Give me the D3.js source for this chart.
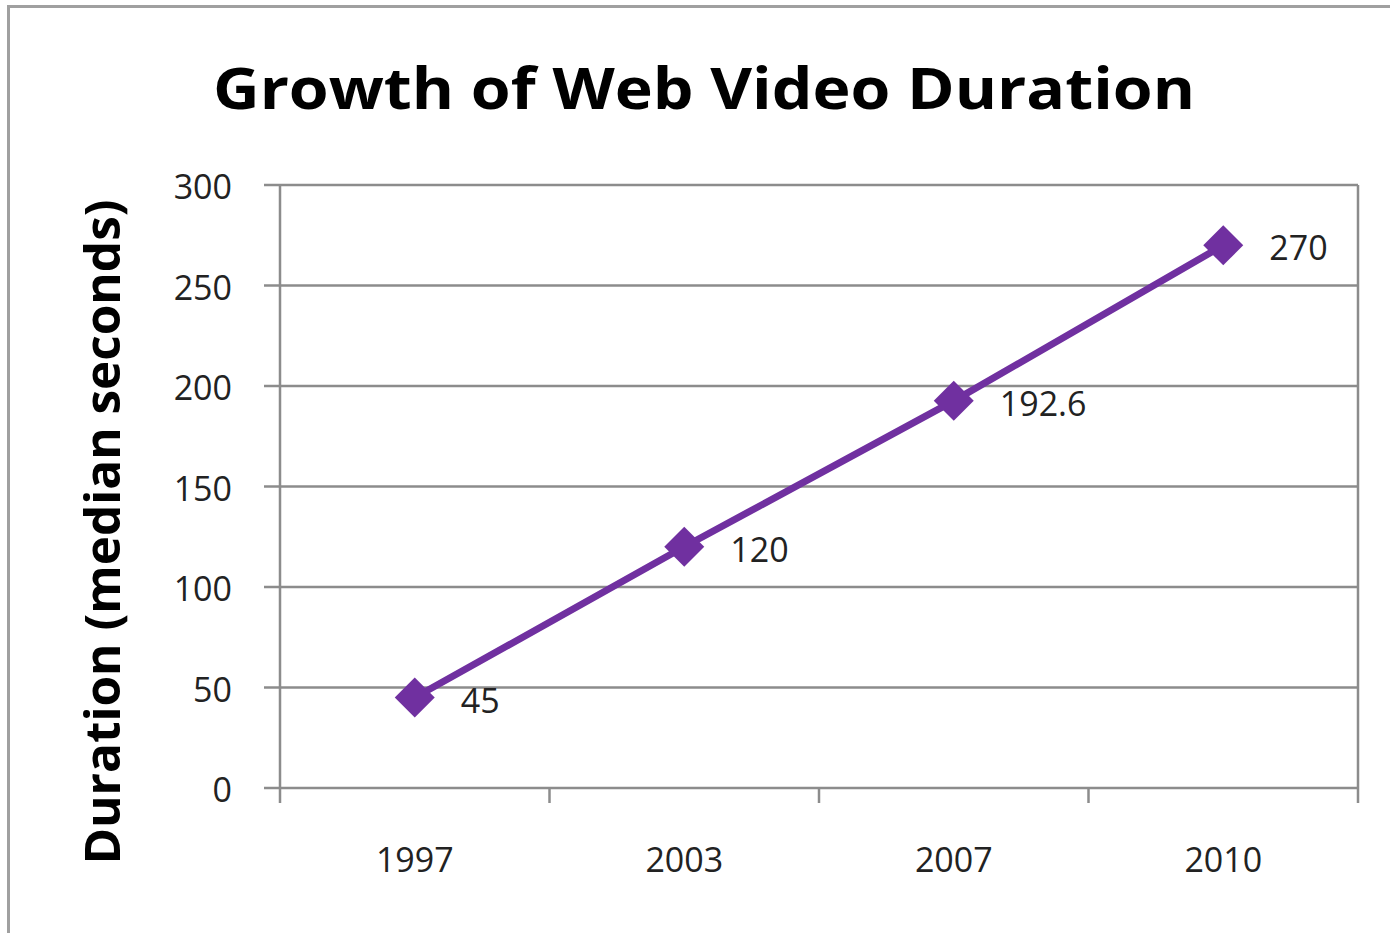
<!DOCTYPE html>
<html>
<head>
<meta charset="utf-8">
<script src="https://cdn.jsdelivr.net/npm/d3@7"></script>
<style>
  body { margin: 0; background: #fff; }
  text { font-family: "Open Sans", "DejaVu Sans", sans-serif; }
</style>
</head>
<body>
<div id="chart"></div>
<script>
// data
var years = ["1997", "2003", "2007", "2010"];
var durations = [45, 120, 192.6, 270];
var labels = ["45", "120", "192.6", "270"];
var yTicks = [0, 50, 100, 150, 200, 250, 300];

var W = 1390, H = 933;
var margin = {top: 185, right: 32, bottom: 145, left: 280};
var width = W - margin.left - margin.right,
    height = H - margin.top - margin.bottom;

var svg = d3.select("#chart").append("svg")
    .attr("width", W)
    .attr("height", H);

// outer chart border
svg.append("rect")
    .attr("x", 8.5).attr("y", 6.5)
    .attr("width", W + 20).attr("height", H + 20)
    .attr("fill", "none")
    .attr("stroke", "#a0a0a0")
    .attr("stroke-width", 3);

svg.append("text")
    .attr("x", 704)
    .attr("y", 109)
    .attr("text-anchor", "middle")
    .style("font-size", "58px")
    .style("font-weight", "bold")
    .attr("textLength", 982)
    .attr("lengthAdjust", "spacingAndGlyphs")
    .text("Growth of Web Video Duration");

svg.append("text")
    .attr("transform", "translate(120," + 532 + ") rotate(-90)")
    .attr("text-anchor", "middle")
    .style("font-size", "48px")
    .style("font-weight", "bold")
    .attr("textLength", 665)
    .attr("lengthAdjust", "spacingAndGlyphs")
    .text("Duration (median seconds)");

var g = svg.append("g")
    .attr("transform", "translate(" + margin.left + "," + margin.top + ")");

var x = d3.scaleBand().domain(years).range([0, width]);
var y = d3.scaleLinear().domain([0, 300]).range([height, 0]);

// gridlines
g.selectAll(".grid")
    .data(yTicks)
    .enter().append("line")
    .attr("class", "grid")
    .attr("x1", -16).attr("x2", width)
    .attr("y1", d => y(d)).attr("y2", d => y(d))
    .attr("stroke", "#8c8c8c")
    .attr("stroke-width", 2.5);

// right border
g.append("line")
    .attr("x1", width).attr("x2", width)
    .attr("y1", 0).attr("y2", height + 15)
    .attr("stroke", "#8c8c8c")
    .attr("stroke-width", 2.5);

// y axis
var yAxis = g.append("g")
    .call(d3.axisLeft(y).tickValues(yTicks).tickSize(0).tickPadding(48));
yAxis.select(".domain").remove();
yAxis.selectAll("text")
    .attr("dy", "0.4em")
    .style("font-size", "34px")
    .style("font-family", "\"Open Sans\", sans-serif")
    .attr("fill", "#222");

g.append("line")
    .attr("x1", 0).attr("x2", 0)
    .attr("y1", 0).attr("y2", height + 15)
    .attr("stroke", "#8c8c8c")
    .attr("stroke-width", 2.5);

// x axis category boundaries
var bounds = years.slice(1).map(d => x(d));
g.selectAll(".xtick")
    .data(bounds)
    .enter().append("line")
    .attr("x1", d => d).attr("x2", d => d)
    .attr("y1", height).attr("y2", height + 15)
    .attr("stroke", "#8c8c8c")
    .attr("stroke-width", 2.5);

var xAxis = g.append("g")
    .attr("transform", "translate(0," + height + ")")
    .call(d3.axisBottom(x).tickSize(0).tickPadding(60));
xAxis.select(".domain").remove();
xAxis.selectAll("text")
    .style("font-size", "34px")
    .style("font-family", "\"Open Sans\", sans-serif")
    .attr("fill", "#222");

var pts = years.map((d, i) => ({year: d, value: durations[i], label: labels[i]}));

var purple = "#7030a0";

g.append("path")
    .datum(pts)
    .attr("fill", "none")
    .attr("stroke", purple)
    .attr("stroke-width", 7)
    .attr("d", d3.line()
        .x(d => x(d.year) + x.bandwidth() / 2)
        .y(d => y(d.value)));

g.selectAll(".marker")
    .data(pts)
    .enter().append("path")
    .attr("transform", d => "translate(" + (x(d.year) + x.bandwidth() / 2) + "," + y(d.value) + ") rotate(45)")
    .attr("d", d3.symbol().type(d3.symbolSquare).size(800))
    .attr("fill", purple);

g.selectAll(".lbl")
    .data(pts)
    .enter().append("text")
    .attr("x", d => x(d.year) + x.bandwidth() / 2 + 46)
    .attr("y", d => y(d.value) + 15)
    .style("font-size", "34px")
    .attr("fill", "#222")
    .text(d => d.label);
</script>
</body>
</html>
